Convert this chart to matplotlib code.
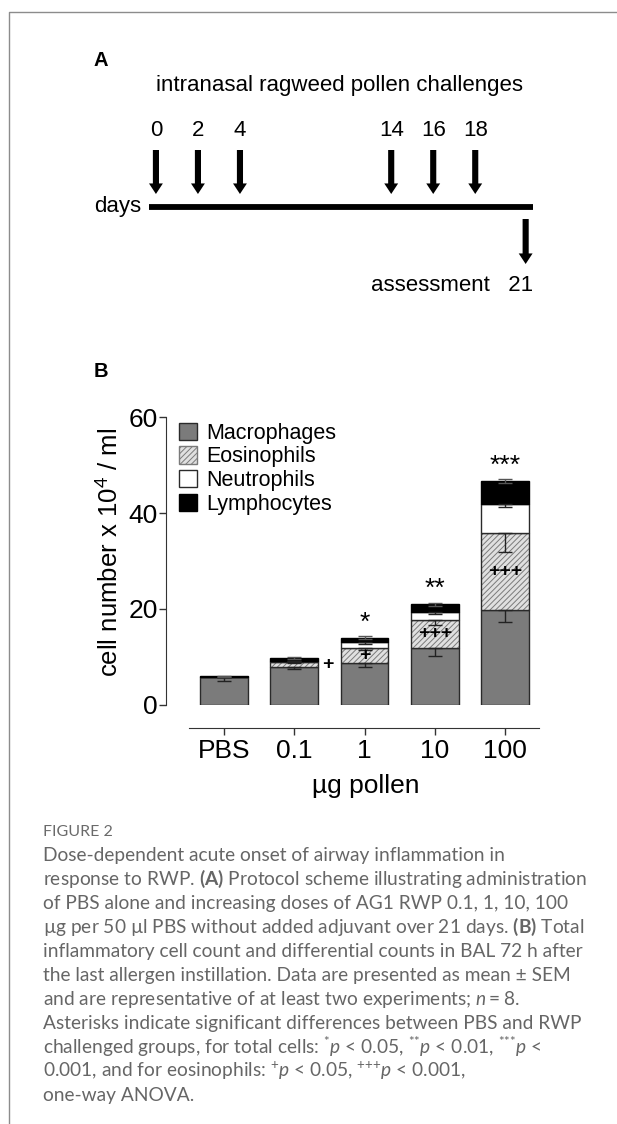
import numpy as np
import matplotlib
matplotlib.use('Agg')
import matplotlib.pyplot as plt
from matplotlib.patches import Patch
from matplotlib.lines import Line2D

plt.rcParams['font.family'] = ['Liberation Sans', 'DejaVu Sans']
plt.rcParams['mathtext.fontset'] = 'custom'
plt.rcParams['mathtext.rm'] = 'Lato'
plt.rcParams['mathtext.it'] = 'Lato:italic'
plt.rcParams['mathtext.bf'] = 'Lato:bold'
plt.rcParams['hatch.linewidth'] = 0.7

# panel A: protocol scheme
challenge_days = [0, 2, 4, 14, 16, 18]
assessment_day = 21

# panel B: BAL cell counts (x 10^4 / ml), mean and SEM
doses = ['PBS', '0.1', '1', '10', '100']
macrophages = [5.8, 7.9, 8.8, 11.9, 19.8]
eosinophils = [0.0, 1.1, 3.1, 5.8, 16.0]
neutrophils = [0.0, 0.2, 1.2, 1.7, 6.1]
lymphocytes = [0.2, 0.6, 0.9, 1.6, 4.8]
macro_sem = [0.7, 0.4, 0.8, 1.6, 2.5]
eos_sem = [0.0, 0.3, 0.4, 1.0, 3.9]
neut_sem = [0.0, 0.1, 0.3, 0.5, 0.7]
lymph_sem = [0.1, 0.2, 0.3, 0.3, 0.4]
total_sig = ['', '', '*', '**', '***']
eos_sig = ['', '+', '+', '+++', '+++']

caption_lines = [
    'Dose-dependent acute onset of airway inflammation in',
    r'response to RWP. $\mathbf{(A)}$ Protocol scheme illustrating administration',
    'of PBS alone and increasing doses of AG1 RWP 0.1, 1, 10, 100',
    r'µg per 50 µl PBS without added adjuvant over 21 days. $\mathbf{(B)}$ Total',
    'inflammatory cell count and differential counts in BAL 72 h after',
    'the last allergen instillation. Data are presented as mean ± SEM',
    r'and are representative of at least two experiments; $n=8$.',
    'Asterisks indicate significant differences between PBS and RWP',
    r'challenged groups, for total cells: $^{\text{*}}p$ < 0.05, $^{\text{**}}p$ < 0.01, $^{\text{***}}p$ <',
    r'0.001, and for eosinophils: $^{\text{+}}p$ < 0.05, $^{\text{+++}}p$ < 0.001,',
    'one-way ANOVA.',
]

W, H = 617, 1124
fig = plt.figure(figsize=(W / 100, H / 100), dpi=100)

# page frame
fig.add_artist(Line2D([9 / W, 9 / W, 1], [0, 1 - 12 / H, 1 - 12 / H],
                      transform=fig.transFigure, color='#8c8c8c', lw=1))

# ---------------- panel A ----------------
# schematic day axis: the 4-14 gap is drawn compressed
knots_day = [-10, 0, 4, 14, 18, 21, 40]
knots_pos = [-10, 0, 4, 11.2, 15.2, 17.6, 36.6]
fwd = lambda d: np.interp(d, knots_day, knots_pos)
inv = lambda p: np.interp(p, knots_pos, knots_day)

ax_a = fig.add_axes([149 / W, 1 - 300 / H, 384 / W, 260 / H])
ax_a.set_xscale('function', functions=(fwd, inv))
ax_a.set_xlim(inv(-0.33), inv(17.95))
ax_a.set_ylim(300, 40)
ax_a.axis('off')

ax_a.axhline(207, color='black', lw=4.2, solid_capstyle='butt')
arrow = dict(arrowstyle='simple,head_width=0.5,head_length=0.38,tail_width=0.22',
             mutation_scale=20, color='black', lw=0, shrinkA=0, shrinkB=0)
for d in challenge_days:
    ax_a.annotate('', xy=(d, 194), xytext=(d, 150), arrowprops=arrow)
    ax_a.text(d, 131, str(d), ha='center', va='center', fontsize=16)
ax_a.annotate('', xy=(assessment_day, 264), xytext=(assessment_day, 219), arrowprops=arrow)
ax_a.text(1.0, 286, 'assessment   %d' % assessment_day, ha='right', va='center',
          fontsize=16, transform=ax_a.get_yaxis_transform())
ax_a.text(-0.02, 207, 'days', ha='right', va='center', fontsize=16,
          transform=ax_a.get_yaxis_transform())
fig.text(339 / W, 1 - 86 / H, 'intranasal ragweed pollen challenges',
         ha='center', va='center', fontsize=16)
fig.text(94 / W, 1 - 60 / H, 'A', fontsize=14.5, fontweight='bold', va='center')
fig.text(94 / W, 1 - 372 / H, 'B', fontsize=14.5, fontweight='bold', va='center')

# ---------------- panel B ----------------
ax = fig.add_axes([166 / W, 1 - 705 / H, 373 / W, 288 / H])
x = np.arange(len(doses))
bw = 0.68
edge = '#2a2a2a'
macro = np.array(macrophages)
eos = np.array(eosinophils)
neut = np.array(neutrophils)
lymph = np.array(lymphocytes)
b1 = macro
b2 = macro + eos
b3 = b2 + neut
tot = b3 + lymph

ax.bar(x, macro, bw, color='#7b7b7b', edgecolor=edge, lw=1, zorder=2)
ax.bar(x, eos, bw, bottom=b1, color='#e0e0e0', edgecolor='#7a7a7a', hatch='//////', lw=0, zorder=2)
ax.bar(x, eos, bw, bottom=b1, fill=False, edgecolor=edge, lw=1, zorder=2)
ax.bar(x, neut, bw, bottom=b2, color='white', edgecolor=edge, lw=1, zorder=2)
ax.bar(x, lymph, bw, bottom=b3, color='black', edgecolor='black', lw=1, zorder=2)

z = np.zeros(len(x))
err_kw = dict(fmt='none', ecolor='#222222', elinewidth=1, capsize=5, capthick=1, zorder=3)
ax.errorbar(x, b1, yerr=[macro_sem, z], **err_kw)
ax.errorbar(x, b2, yerr=[eos_sem, z], **err_kw)
ax.errorbar(x, b3, yerr=[neut_sem, z], **err_kw)
ax.errorbar(x, tot, yerr=[lymph_sem, lymph_sem], fmt='none', ecolor='#555555',
            elinewidth=1, capsize=5, capthick=1, zorder=3)

for i in x:
    if total_sig[i]:
        ax.text(i, tot[i] + lymph_sem[i] + 0.3, total_sig[i], ha='center', va='bottom',
                fontsize=19)
    if eos_sig[i]:
        if eos[i] < 2:
            ax.text(i + bw / 2 + 0.06, b1[i] + eos[i] / 2, eos_sig[i], ha='left',
                    va='center', fontsize=14, fontweight='bold')
        else:
            ax.text(i, b1[i] + eos[i] / 2, eos_sig[i], ha='center', va='center',
                    fontsize=14, fontweight='bold', zorder=4)

ax.set_xlim(-0.826, 4.484)
ax.set_ylim(0, 60)
ax.set_yticks([0, 20, 40, 60])
ax.set_xticks(x)
ax.set_xticklabels(doses)
ax.spines['top'].set_visible(False)
ax.spines['right'].set_visible(False)
ax.spines['bottom'].set_position(('outward', 16.5))
ax.spines['bottom'].set_bounds(-0.5, 4.48)
ax.spines['left'].set_bounds(0, 60)
for s in ('left', 'bottom'):
    ax.spines[s].set_color('#333333')
ax.tick_params(axis='both', labelsize=19, colors='#333333', labelcolor='black', width=1)
ax.tick_params(axis='y', length=5, pad=1)
ax.tick_params(axis='x', length=5, pad=3)
ax.set_ylabel('cell number x 10$^4$ / ml', fontsize=18.5)
ax.yaxis.set_label_coords(-0.115, 0.53)
ax.set_xlabel('µg pollen', fontsize=19)
ax.xaxis.set_label_coords(0.535, -0.24)

handles = [Patch(facecolor='#7b7b7b', edgecolor=edge),
           Patch(facecolor='#e0e0e0', edgecolor='#7a7a7a', hatch='//////'),
           Patch(facecolor='white', edgecolor=edge),
           Patch(facecolor='black', edgecolor='black')]
ax.legend(handles, ['Macrophages', 'Eosinophils', 'Neutrophils', 'Lymphocytes'],
          loc='upper left', bbox_to_anchor=(0.035, 0.98), frameon=False, fontsize=15.5,
          handlelength=0.85, handleheight=0.85, handletextpad=0.4, labelspacing=0.12,
          borderaxespad=0, borderpad=0)

# ---------------- caption ----------------
fig.text(43 / W, 1 - 832 / H, 'FIGURE 2', fontsize=11.5, color='#6a6a6a',
         family='Lato', va='center')
for k, line in enumerate(caption_lines):
    fig.text(43 / W, 1 - (855 + 24 * k) / H, line, fontsize=13.8, color='#666666',
             family='Lato', va='center')

fig.savefig('out.png', dpi=100)
